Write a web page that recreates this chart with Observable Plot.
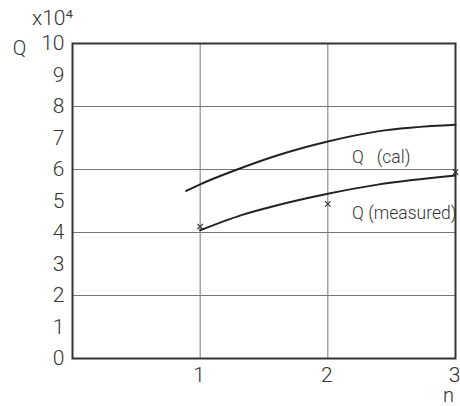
<!DOCTYPE html>
<html>
<head>
<meta charset="utf-8">
<script src="https://cdn.jsdelivr.net/npm/d3@7"></script>
<script src="https://cdn.jsdelivr.net/npm/@observablehq/plot@0.6"></script>
<style>
  html, body { margin: 0; padding: 0; background: #fff; }
  #chart svg { display: block; }
</style>
</head>
<body>
<div id="chart"></div>
<script>
// Calculated flow Q (×10⁴) against n
const calN = [0.89, 1.0, 1.29, 1.59, 2.0, 2.39, 3.0];
const calQ = [5.32, 5.53, 6.0, 6.43, 6.89, 7.21, 7.42];

// Fitted curve through the measured flow
const measN = [1.0, 1.33, 1.59, 2.0, 2.39, 3.0];
const measQ = [4.07, 4.56, 4.85, 5.23, 5.52, 5.81];

// Measured points (x marks)
const pointN = [1, 2, 3];
const pointQ = [4.19, 4.91, 5.92];

// Curve labels
const curveLabels = ["Q\u00a0\u00a0\u00a0(cal)", "Q (measured)"];
const labelN = [2.19, 2.19];
const labelQ = [6.39, 4.6];

// Axis ticks and grid
const yTicks = [0, 1, 2, 3, 4, 5, 6, 7, 8, 9, 10];
const xTicks = [1, 2, 3];
const yGrid = [2, 4, 6, 8];
const xGrid = [1, 2];

const cal = calN.map((n, i) => ({n, q: calQ[i]}));
const meas = measN.map((n, i) => ({n, q: measQ[i]}));
const pts = pointN.map((n, i) => ({n, q: pointQ[i]}));
const labels = curveLabels.map((t, i) => ({t, n: labelN[i], q: labelQ[i]}));

const ink = "#333";
const textInk = "#333";
const font = "Roboto, 'Open Sans', sans-serif";
const fw = 300;

const chart = Plot.plot({
  width: 460,
  height: 406,
  marginLeft: 72,
  marginRight: 5,
  marginTop: 43,
  marginBottom: 48,
  style: {fontFamily: font, background: "#fff", overflow: "visible"},
  x: {domain: [0, 3]},
  y: {domain: [0, 10]},
  marks: [
    Plot.ruleY(yGrid, {stroke: "#777", strokeWidth: 1}),
    Plot.ruleX(xGrid, {stroke: "#777", strokeWidth: 1}),
    Plot.frame({stroke: ink, strokeWidth: 2}),
    Plot.axisY({ticks: yTicks, tickFormat: d => String(d), tickSize: 0, tickPadding: 8,
      label: null, fontSize: 21, fontWeight: fw, fill: textInk}),
    Plot.axisX({ticks: xTicks, tickFormat: d => String(d), tickSize: 0, tickPadding: 9,
      label: null, fontSize: 21, fontWeight: fw, fill: textInk, dx: -1}),
    Plot.line(cal, {x: "n", y: "q", curve: "monotone-x", stroke: "#222", strokeWidth: 2}),
    Plot.line(meas, {x: "n", y: "q", curve: "monotone-x", stroke: "#222", strokeWidth: 2}),
    Plot.dot(pts, {x: "n", y: "q", symbol: "times", r: 2.6, stroke: ink, strokeWidth: 1.1}),
    Plot.text(labels, {x: "n", y: "q", text: "t", textAnchor: "start",
      fontSize: 17.5, fontWeight: fw, fill: textInk}),
    Plot.text(["Q"], {frameAnchor: "top-left", dx: -53, dy: 5, textAnchor: "middle",
      lineAnchor: "middle", fontSize: 20, fontWeight: fw, fill: textInk}),
    Plot.text(["x10⁴"], {frameAnchor: "top-left", dx: -20, dy: -25, textAnchor: "middle",
      lineAnchor: "middle", fontSize: 21, fontWeight: fw, fill: textInk}),
    Plot.text(["n"], {frameAnchor: "bottom-right", dx: -7, dy: 37, textAnchor: "middle",
      lineAnchor: "middle", fontSize: 20, fontWeight: fw, fill: textInk})
  ]
});

document.getElementById("chart").append(chart);
</script>
</body>
</html>
